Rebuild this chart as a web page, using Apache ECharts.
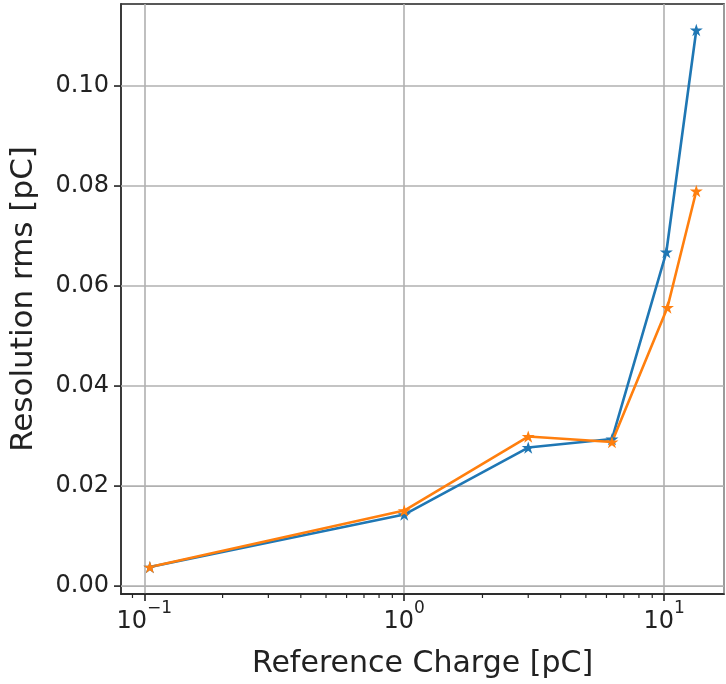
<!DOCTYPE html>
<html>
<head>
<meta charset="utf-8">
<script src="https://cdn.jsdelivr.net/npm/echarts@6/dist/echarts.min.js"></script>
<style>
html,body{margin:0;padding:0;background:#fff;}
#chart{width:726px;height:684px;}
</style>
</head>
<body>
<div id="chart"></div>
<script>
// ---- data ----
const blueX = [0.105, 1.0, 3.0, 6.3, 10.2, 13.3];
const blueY = [0.0038, 0.0143, 0.0277, 0.0294, 0.0668, 0.1112];
const orangeX = [0.105, 1.0, 3.0, 6.3, 10.3, 13.3];
const orangeY = [0.0038, 0.0151, 0.0299, 0.0288, 0.0557, 0.0790];
const yTicks = [0.00, 0.02, 0.04, 0.06, 0.08, 0.10];
const xMinorTicks = [0.09, 0.2, 0.3, 0.4, 0.5, 0.6, 0.7, 0.8, 0.9, 2, 3, 4, 5, 6, 7, 8, 9];
const xTitle = 'Reference Charge [pC]';
const yTitle = 'Resolution rms [pC]';

const X_MIN = 0.0813, X_MAX = 17.0;
const Y_MIN = -0.00158, Y_MAX = 0.1164;

const FONT = 'DejaVu Sans';
const star = 'path://M100,0 L122.45,69.1 L195.11,69.1 L136.33,111.8 L158.78,180.9 L100,138.2 L41.22,180.9 L63.67,111.8 L4.89,69.1 L77.55,69.1 Z';

function zip(xs, ys){ return xs.map((x,i)=>[x, ys[i]]); }

const chart = echarts.init(document.getElementById('chart'), null, {renderer:'canvas'});

function lineSeries(name, xs, ys, color){
  return {
    name, type:'line', data: zip(xs, ys),
    symbol: star, symbolSize: 13, symbolKeepAspect: true,
    showSymbol: true,
    lineStyle:{color, width:2.6},
    itemStyle:{color, borderWidth:0},
    emphasis:{disabled:true},
    animation:false, z: 3
  };
}

const option = {
  animation:false,
  grid:{left:111, right:2, top:4, bottom:84, containLabel:false,
        show:true, borderColor:'#222', borderWidth:1.6, backgroundColor:'transparent'},
  xAxis:{
    type:'log', logBase:10, min:X_MIN, max:X_MAX,
    name: xTitle, nameLocation:'middle', nameGap:55,
    nameTextStyle:{fontFamily:FONT, fontSize:30, color:'#222'},
    axisLine:{show:true, onZero:false, lineStyle:{color:'#222', width:1.6}},
    axisTick:{show:true, length:7, lineStyle:{color:'#222', width:1.6}},
    splitLine:{show:true, lineStyle:{color:'#b0b0b0', width:1.6}},
    axisLabel:{
      show:true, margin:6, showMinLabel:false, showMaxLabel:false,
      fontFamily:FONT, color:'#222',
      formatter: function(v){
        const l = Math.log10(v), e = Math.round(l);
        if (Math.abs(l - e) > 1e-6) return '';
        return '{b|10}{s|' + (e < 0 ? '\u2212' : '') + Math.abs(e) + '}';
      },
      rich:{
        b:{fontFamily:FONT, fontSize:24, color:'#222', lineHeight:34, verticalAlign:'bottom'},
        s:{fontFamily:FONT, fontSize:17, color:'#222', lineHeight:17, verticalAlign:'top'}
      }
    }
  },
  yAxis:{
    type:'value', min:Y_MIN, max:Y_MAX,
    name: yTitle, nameLocation:'middle', nameGap:82, nameRotate:90,
    nameTextStyle:{fontFamily:FONT, fontSize:31, color:'#222'},
    axisLine:{show:true, onZero:false, lineStyle:{color:'#222', width:1.6}},
    axisTick:{show:false},
    splitLine:{show:false},
    axisLabel:{show:false}
  },
  series:[
    lineSeries('blue', blueX, blueY, '#1f77b4'),
    lineSeries('orange', orangeX, orangeY, '#ff7f0e'),
    // y ticks, labels and gridlines drawn at the tick values through the axis scale
    {
      type:'custom', silent:true, clip:false, z:1,
      data: yTicks.map(v=>[X_MIN, v]),
      renderItem: function(params, api){
        const p = api.coord([X_MIN, api.value(1)]);
        const pr = api.coord([X_MAX, api.value(1)]);
        const y = p[1];
        return {type:'group', children:[
          {type:'line', shape:{x1:p[0], y1:y, x2:pr[0], y2:y}, style:{stroke:'#b0b0b0', lineWidth:1.6}},
          {type:'line', shape:{x1:p[0]-7, y1:y, x2:p[0], y2:y}, style:{stroke:'#222', lineWidth:1.6}},
          {type:'text', x:p[0]-12, y:y, style:{text:api.value(1).toFixed(2), fontFamily:FONT, fontSize:24, fill:'#222', align:'right', verticalAlign:'middle'}}
        ]};
      }
    },
    // x minor ticks
    {
      type:'custom', silent:true, clip:false, z:1,
      data: xMinorTicks.map(v=>[v, Y_MIN]),
      renderItem: function(params, api){
        const p = api.coord([api.value(0), Y_MIN]);
        return {type:'line', shape:{x1:p[0], y1:p[1], x2:p[0], y2:p[1]+4}, style:{stroke:'#222', lineWidth:1.2}};
      }
    }
  ]
};
chart.setOption(option);
</script>
</body>
</html>
